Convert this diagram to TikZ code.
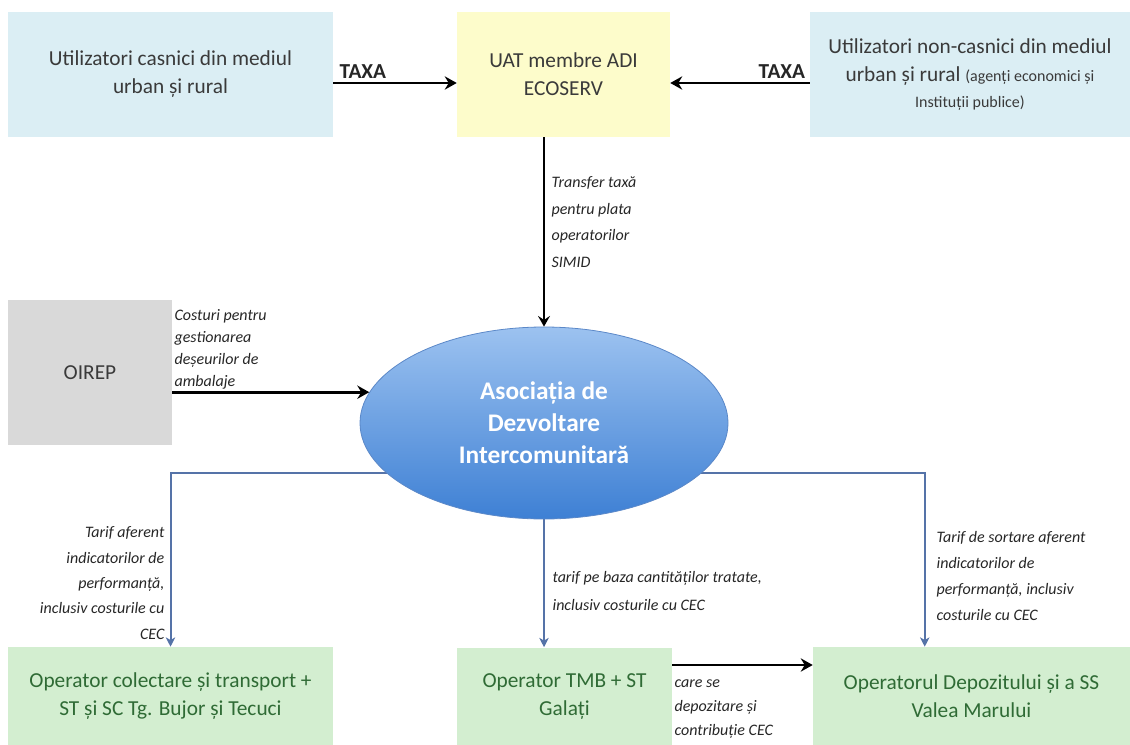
\documentclass[tikz,border=0pt]{standalone}
\usepackage{fontspec}
\setmainfont{Carlito}
\usetikzlibrary{shapes.geometric,arrows.meta,backgrounds,calc}
\definecolor{lblue}{HTML}{DBEEF4}
\definecolor{lyellow}{HTML}{FDFCCB}
\definecolor{lgray}{HTML}{D9D9D9}
\definecolor{lgreen}{HTML}{D3EED0}
\definecolor{gtext}{HTML}{2F6B35}
\definecolor{dtext}{HTML}{3A3A3A}
\definecolor{ltop}{HTML}{9CC2F0}
\definecolor{lbot}{HTML}{3E80D4}
\definecolor{lborder}{HTML}{5B88C8}
\definecolor{conblue}{HTML}{5573A8}
\tikzset{
  box/.style={rectangle, draw=none, align=center, inner sep=2pt, text=dtext,
    font=\fontsize{16}{21}\selectfont},
  gbox/.style={box, fill=lgreen, text=gtext},
  lab/.style={inner sep=1pt, font=\fontsize{12}{18}\itshape, text=black!85},
  blk/.style={draw=black, line width=2.2pt, -{Stealth[length=9pt,width=10pt,inset=3pt]}},
  blkthin/.style={draw=black, line width=1.6pt, -{Stealth[length=8pt,width=9pt,inset=3pt]}},
  bl/.style={draw=conblue, line width=1.5pt, -{Stealth[length=7pt,width=7pt,inset=2pt]}},
  taxa/.style={font=\fontsize{16}{19}\bfseries, inner sep=2pt, text=black!85}
}
\begin{document}
\begin{tikzpicture}[x=0.75pt,y=-0.75pt]
\useasboundingbox (0,0) rectangle (1130,745);

% top row
\node[box, fill=lblue, minimum width=243.75pt, minimum height=93.75pt] (b1) at (170.5,74.5)
  {Utilizatori casnici din mediul\\urban și rural};
\node[box, fill=lyellow, minimum width=159.75pt, minimum height=93.75pt] (b2) at (563.5,74.5)
  {UAT membre ADI\\ECOSERV};
\node[box, fill=lblue, minimum width=240pt, minimum height=93.75pt] (b3) at (970,74.5)
  {Utilizatori non-casnici din mediul\\urban și rural {\fontsize{12}{16}\selectfont (agenți economici și}\\[-2pt]{\fontsize{12}{16}\selectfont Instituții publice)}};

% OIREP
\node[box, fill=lgray, minimum width=123pt, minimum height=108.75pt] (oirep) at (90,372.5) {OIREP};

% ellipse
\node[ellipse, draw=lborder, line width=0.6pt, top color=ltop, bottom color=lbot,
  minimum width=276pt, minimum height=144pt, inner sep=0pt, align=center, text=white,
  font=\fontsize{19}{24}\bfseries] (adi) at (544,423)
  {Asociația de\\Dezvoltare\\Intercomunitară};

% bottom row
\node[gbox, minimum width=243.75pt, minimum height=73.5pt] (b4) at (170.5,696)
  {Operator colectare și transport +\\ST și SC Tg. Bujor și Tecuci};
\node[gbox, minimum width=161.25pt, minimum height=73.5pt] (b5) at (564.5,696.5)
  {Operator TMB + ST\\Galați};
\node[gbox, minimum width=237.75pt, minimum height=73.5pt] (b6) at (971.5,696)
  {Operatorul Depozitului și a SS\\Valea Marului};

% helper coordinates
\coordinate (ytax) at (0,83);
\coordinate (yh) at (0,473);
\coordinate (ybot) at (0,665);

% TAXA arrows
\draw[blk] (b1.east |- ytax) -- node[taxa, pos=0.24, above] (t1) {TAXA} (b2.west |- ytax);
\draw[blk] (b3.west |- ytax) -- node[taxa, pos=0.2, above] (t2) {TAXA} (b2.east |- ytax);

% transfer arrow
\draw[blkthin] (b2.south -| adi.north) -- (adi.north);
\node[lab, anchor=west, align=left, font=\fontsize{12}{20}\itshape] (ltr) at (550,222)
  {Transfer taxă\\pentru plata\\operatorilor\\SIMID};

% OIREP arrow
\draw[blk] (oirep.east |- adi.170) -- (adi.170);
\node[lab, anchor=west, align=left, font=\fontsize{12}{16.5}\itshape] (lco) at (173,349.5)
  {Costuri pentru\\gestionarea\\deșeurilor de\\ambalaje};

% blue connectors (behind the ellipse)
\begin{pgfonlayer}{background}
\draw[bl] (adi.center |- yh) -| (b4.north);
\draw[bl] (adi.center |- yh) -| ([xshift=84pt]b6.north west);
\draw[bl] (adi.south) -- (adi.south |- b5.north);
\end{pgfonlayer}

\node[lab, anchor=east, align=right, font=\fontsize{12}{19}\itshape] (ll) at (166,583)
  {Tarif aferent\\indicatorilor de\\performanță,\\inclusiv costurile cu\\CEC};
\node[lab, anchor=west, align=left, font=\fontsize{12}{21}\itshape] (lm) at (551,591)
  {tarif pe baza cantităților tratate,\\inclusiv costurile cu CEC};
\node[lab, anchor=west, align=left, font=\fontsize{12}{19.5}\itshape] (lr) at (935,576)
  {Tarif de sortare aferent\\indicatorilor de\\performanță, inclusiv\\costurile cu CEC};

% TMB -> depozit
\draw[blk] (b5.east |- ybot) -- (b6.west |- ybot);
\node[lab, anchor=west, align=left, font=\fontsize{12}{18}\itshape] (lcs) at (673,709)
  {care se\\depozitare și\\contribuție CEC};
\end{tikzpicture}
\end{document}
